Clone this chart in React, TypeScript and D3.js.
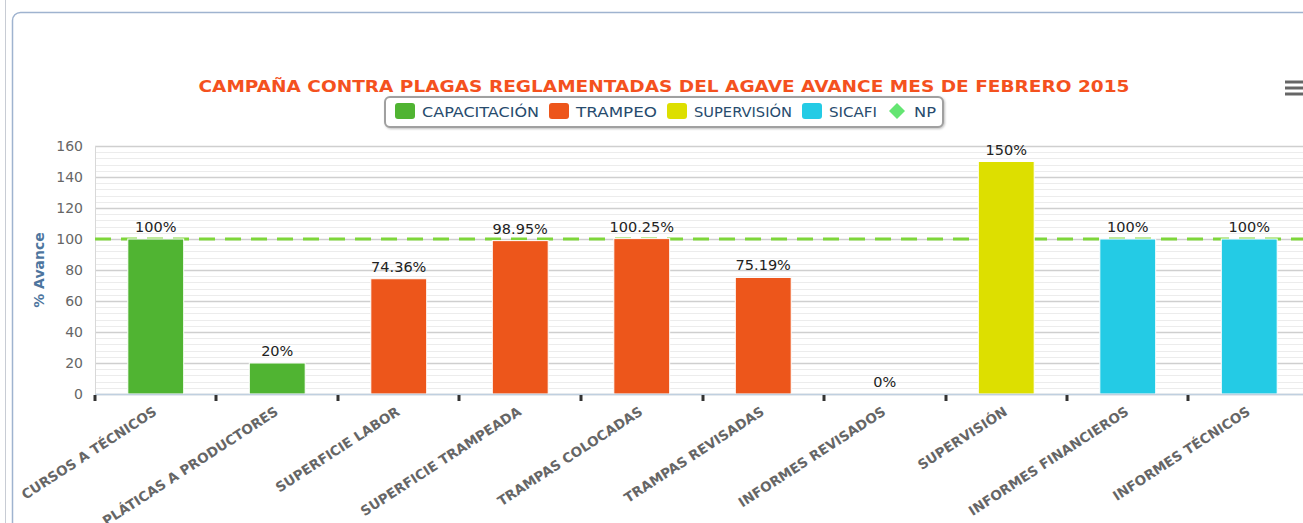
import * as d3 from 'd3'

const categories = [
  'CURSOS A TÉCNICOS',
  'PLÁTICAS A PRODUCTORES',
  'SUPERFICIE LABOR',
  'SUPERFICIE TRAMPEADA',
  'TRAMPAS COLOCADAS',
  'TRAMPAS REVISADAS',
  'INFORMES REVISADOS',
  'SUPERVISIÓN',
  'INFORMES FINANCIEROS',
  'INFORMES TÉCNICOS',
]
const values = [100, 20, 74.36, 98.95, 100.25, 75.19, 0, 150, 100, 100]
const valueLabels = ['100%', '20%', '74.36%', '98.95%', '100.25%', '75.19%', '0%', '150%', '100%', '100%']
const seriesOf = ['CAPACITACIÓN', 'CAPACITACIÓN', 'TRAMPEO', 'TRAMPEO', 'TRAMPEO', 'TRAMPEO', 'TRAMPEO', 'SUPERVISIÓN', 'SICAFI', 'SICAFI']
const seriesNames = ['CAPACITACIÓN', 'TRAMPEO', 'SUPERVISIÓN', 'SICAFI', 'NP']
const seriesColors = ['#50B432', '#ED561B', '#DDDF00', '#24CBE5', '#64E572']
const npValue = 100
const yTicks = [0, 20, 40, 60, 80, 100, 120, 140, 160]

const W = 1303
const H = 523
const plot = { left: 95, top: 146, right: 1310, bottom: 394 }
const FONT = '"DejaVu Sans", Verdana, sans-serif'

export default function App() {
  const x = d3.scaleBand<string>()
    .domain(categories)
    .range([plot.left, plot.right])
    .paddingInner(0.54)
    .paddingOuter(0.27)
  const step = x.step()
  const y = d3.scaleLinear().domain([0, 160]).range([plot.bottom, plot.top])
  const color = d3.scaleOrdinal<string, string>().domain(seriesNames).range(seriesColors)
  const minorTicks = d3.range(0, 161, 4).filter(v => v % 20 !== 0)

  // legend layout: symbol + label widths
  const legendWidths = [117, 81, 98, 48, 22]
  let lx = 395
  const legendItems = seriesNames.map((name, i) => {
    const item = { name, x: lx, w: legendWidths[i] }
    lx += 27 + legendWidths[i] + 10
    return item
  })

  return (
    <svg width={W} height={H} style={{ position: 'absolute', left: 0, top: 0, background: '#fff' }} fontFamily={FONT}>
      <line x1={5.5} x2={5.5} y1={0} y2={H} stroke="#c8ccd4" />
      <rect x={12.5} y={12.5} width={1330} height={560} rx={8} fill="none" stroke="#9fb3cf" strokeWidth={1.5} />

      <text x={664} y={92} textAnchor="middle" fontSize={16.5} fontWeight="bold" fill="#F4511E" textLength={931} lengthAdjust="spacingAndGlyphs">
        CAMPAÑA CONTRA PLAGAS REGLAMENTADAS DEL AGAVE AVANCE MES DE FEBRERO 2015
      </text>

      {/* export menu */}
      {[82, 88, 94].map(yy => (
        <line key={yy} x1={1285} x2={1303} y1={yy} y2={yy} stroke="#666" strokeWidth={3} />
      ))}

      {/* legend */}
      <rect x={385} y={97} width={558} height={30} rx={5} fill="#fff" stroke="#a0a0a0" strokeWidth={2} style={{ filter: 'drop-shadow(1px 1px 1px rgba(0,0,0,0.25))' }} />
      {legendItems.map(it => (
        <g key={it.name}>
          {it.name === 'NP' ? (
            <path d={`M${it.x + 10},${103} l8,8 l-8,8 l-8,-8 z`} fill={color(it.name)} />
          ) : (
            <rect x={it.x} y={103} width={20} height={16} rx={3} fill={color(it.name)} />
          )}
          <text x={it.x + 27} y={117} fontSize={14} fill="#274b6d" textLength={it.w} lengthAdjust="spacingAndGlyphs">{it.name}</text>
        </g>
      ))}

      {/* grid */}
      {minorTicks.map(t => (
        <line key={'m' + t} x1={plot.left} x2={W} y1={Math.round(y(t)) + 0.5} y2={Math.round(y(t)) + 0.5} stroke="#ececec" />
      ))}
      {yTicks.map(t => (
        <line key={'g' + t} x1={plot.left} x2={W} y1={Math.round(y(t)) + 0.5} y2={Math.round(y(t)) + 0.5} stroke="#cfcfcf" strokeWidth={1.5} />
      ))}
      <line x1={plot.left + 0.5} x2={plot.left + 0.5} y1={plot.top} y2={plot.bottom} stroke="#d8d8d8" />

      {/* y axis */}
      {yTicks.map(t => (
        <text key={'yt' + t} x={83} y={y(t) + 5} textAnchor="end" fontSize={14} fill="#666">{t}</text>
      ))}
      <text transform={`translate(44,270) rotate(-90)`} textAnchor="middle" fontSize={14} fontWeight="bold" fill="#4d759e">% Avance</text>

      {/* NP plot line */}
      <line x1={plot.left} x2={W} y1={y(npValue)} y2={y(npValue)} stroke="#7ed63a" strokeWidth={3} strokeDasharray="16,10" />

      {/* bars */}
      {categories.map((c, i) => (
        <rect key={'b' + c} x={x(c)} y={y(values[i])} width={x.bandwidth()} height={plot.bottom - y(values[i])} fill={color(seriesOf[i])} stroke="#fff" strokeWidth={1} />
      ))}

      {/* data labels */}
      {categories.map((c, i) => (
        <text key={'l' + c} x={(x(c) ?? 0) + x.bandwidth() / 2} y={y(values[i]) - 7} textAnchor="middle" fontSize={14.5} fill="#222">{valueLabels[i]}</text>
      ))}

      {/* x axis */}
      <line x1={plot.left} x2={W} y1={plot.bottom + 0.5} y2={plot.bottom + 0.5} stroke="#C0D0E0" strokeWidth={1.5} />
      {categories.map(c => {
        const tx = Math.round((x(c) ?? 0) - step * 0.27)
        return <line key={'t' + c} x1={tx} x2={tx} y1={plot.bottom + 1} y2={plot.bottom + 7} stroke="#333" strokeWidth={3} />
      })}
      {categories.map(c => {
        const cx = (x(c) ?? 0) + x.bandwidth() / 2
        return (
          <text key={'x' + c} transform={`translate(${cx + 2},${plot.bottom + 20}) rotate(-33)`} textAnchor="end" fontSize={13.5} fontWeight="bold" fill="#666">{c}</text>
        )
      })}
    </svg>
  )
}
